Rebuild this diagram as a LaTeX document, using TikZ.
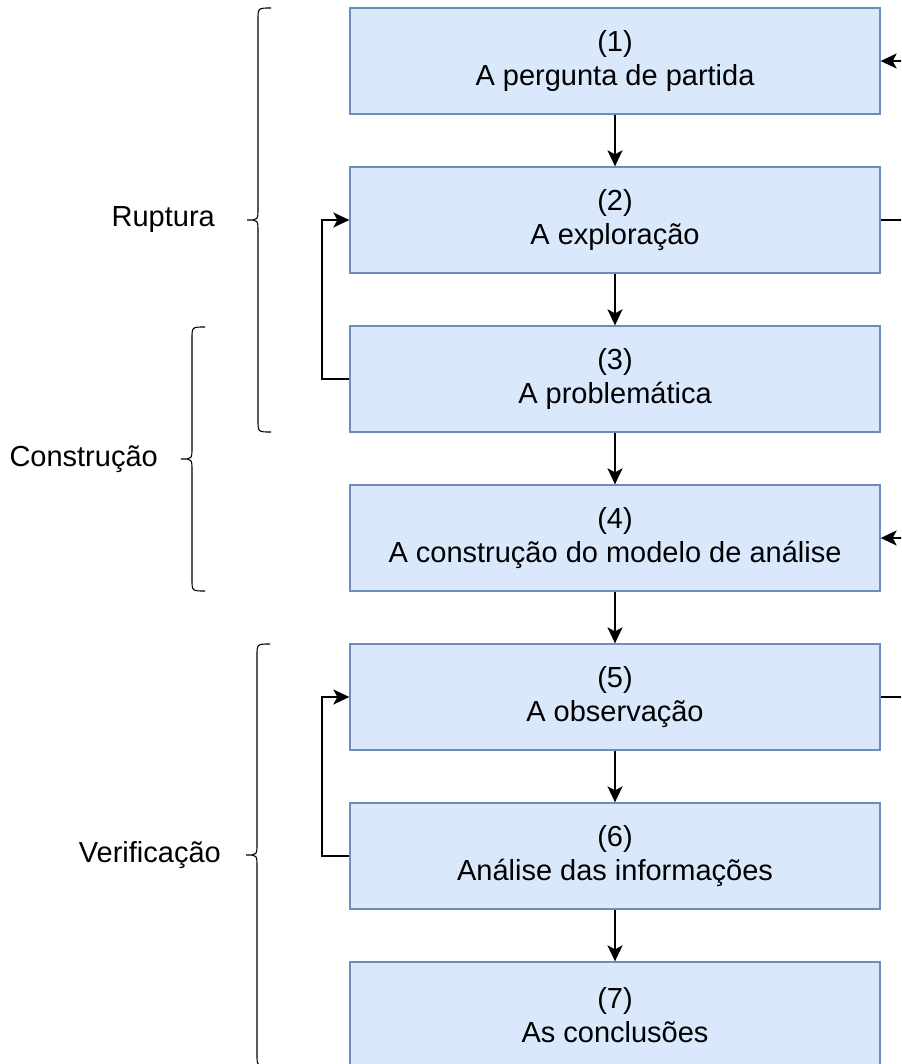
\documentclass[tikz,border=0pt]{standalone}
\usepackage{fontspec}
\setmainfont{Liberation Sans}
\usetikzlibrary{arrows.meta}
\definecolor{stagefill}{HTML}{DAE8FC}
\definecolor{stageline}{HTML}{6C8EBF}

\begin{document}
\begin{tikzpicture}[x=1pt, y=-1pt,
  font=\fontsize{29pt}{34.5pt}\selectfont,
  >={Stealth[length=16pt, width=15pt, inset=4pt]},
  stage/.style={draw=stageline, fill=stagefill, line width=1.3pt,
    minimum width=530pt, minimum height=106pt, align=center, inner sep=0pt},
  link/.style={->, line width=2pt},
  phase/.style={anchor=east, inner sep=0pt},
  curly/.style={line width=1.1pt}]
\path[use as bounding box, clip] (0,0) rectangle (901,1064);

\node[stage] (1) at (615,61)  {(1)\\A pergunta de partida};
\node[stage] (2) at (615,220) {(2)\\A exploração};
\node[stage] (3) at (615,379) {(3)\\A problemática};
\node[stage] (4) at (615,538) {(4)\\A construção do modelo de análise};
\node[stage] (5) at (615,697) {(5)\\A observação};
\node[stage] (6) at (615,856) {(6)\\Análise das informações};
\node[stage] (7) at (615,1015) {(7)\\As conclusões};

\draw[link] (1) -- (2);
\draw[link] (2) -- (3);
\draw[link] (3) -- (4);
\draw[link] (4) -- (5);
\draw[link] (5) -- (6);
\draw[link] (6) -- (7);

% retornos
\draw[link] (3.west) -- ++(-27,0) |- (2.west);
\draw[link] (6.west) -- ++(-27,0) |- (5.west);
\draw[link] (2.east) -- ++(60,0) |- (1.east);
\draw[link] (5.east) -- ++(60,0) |- (4.east);

% chavetas
\draw[curly] (271,8) .. controls (258,8) .. (258,20) -- (258,208)
  .. controls (258,220) .. (247,220) .. controls (258,220) .. (258,232)
  -- (258,420) .. controls (258,432) .. (271,432);
\node[phase] (ruptura) at (215,220) {Ruptura};

\draw[curly] (205,327) .. controls (192,327) .. (192,339) -- (192,447)
  .. controls (192,459) .. (181,459) .. controls (192,459) .. (192,471)
  -- (192,579) .. controls (192,591) .. (205,591);
\node[phase] (construcao) at (158,459) {Construção};

\draw[curly] (270,644) .. controls (257,644) .. (257,656) -- (257,843)
  .. controls (257,855) .. (246,855) .. controls (257,855) .. (257,867)
  -- (257,1054) .. controls (257,1066) .. (270,1066);
\node[phase] (verificacao) at (221,855) {Verificação};
\end{tikzpicture}
\end{document}
